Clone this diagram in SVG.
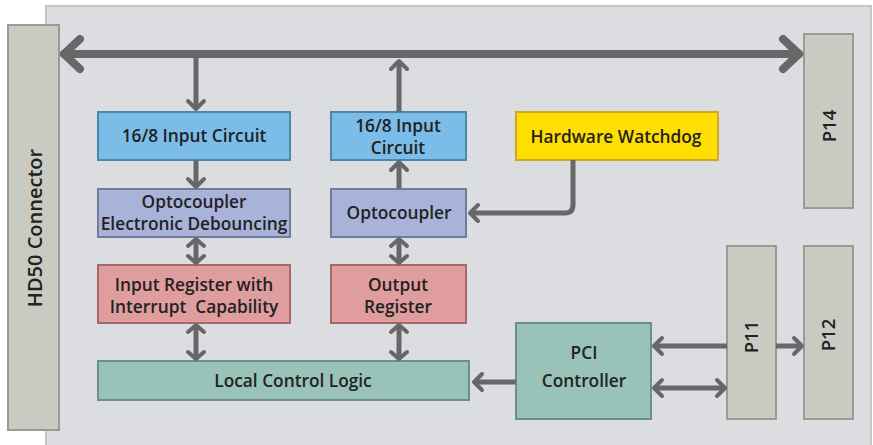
<svg xmlns="http://www.w3.org/2000/svg" width="873" height="445" viewBox="0 0 873 445">
<defs>
<style>
.t{font-family:"Open Sans","Noto Sans",sans-serif;font-weight:600;font-size:17.3px;fill:#222;text-anchor:middle}
.p{font-size:18.5px}
.conn{fill:#c9cbc2;stroke:#9a9c94;stroke-width:2}
.blue{fill:#7bbde8;stroke:#4f86a8;stroke-width:2}
.lav{fill:#a9b3d9;stroke:#717d9c;stroke-width:2}
.pink{fill:#df9d9d;stroke:#a46a6a;stroke-width:2}
.teal{fill:#99c2b8;stroke:#6c9088;stroke-width:2}
.yel{fill:#ffde00;stroke:#c9a82a;stroke-width:2}
.ln{fill:none;stroke:#666769;stroke-width:5}
.hd{fill:none;stroke:#666769;stroke-width:4;stroke-linecap:round;stroke-linejoin:round}
.bus{fill:none;stroke:#666769;stroke-width:8;stroke-linecap:round;stroke-linejoin:round}
</style>
</defs>
<rect x="46" y="6" width="825" height="445" fill="#dcdde0" stroke="#c6c6c6" stroke-width="2"/>
<g id="hd50"><rect class="conn" x="8" y="25" width="51" height="405"/><text class="t" transform="translate(42,228) rotate(-90)" style="font-size:20px">HD50 Connector</text></g>
<g id="p14"><rect class="conn" x="804" y="34" width="49" height="174"/><text class="t p" transform="translate(836,126) rotate(-90)">P14</text></g>
<g id="p11"><rect class="conn" x="727" y="246" width="49" height="173"/><text class="t p" transform="translate(758,337) rotate(-90)">P11</text></g>
<g id="p12"><rect class="conn" x="804" y="246" width="49" height="173"/><text class="t p" transform="translate(835,335) rotate(-90)">P12</text></g>
<g id="in-circuit"><rect class="blue" x="98" y="112" width="192" height="48"/><text class="t" x="194" y="142">16/8 Input Circuit</text></g>
<g id="out-circuit"><rect class="blue" x="331" y="112" width="135" height="48"/><text class="t" x="398" y="132">16/8 Input</text><text class="t" x="398" y="154">Circuit</text></g>
<g id="watchdog"><rect class="yel" x="516" y="112" width="202" height="48"/><text class="t" x="616" y="143">Hardware Watchdog</text></g>
<g id="opto-in"><rect class="lav" x="98" y="189" width="192" height="48"/><text class="t" x="194" y="208">Optocoupler</text><text class="t" x="194" y="230">Electronic Debouncing</text></g>
<g id="opto-out"><rect class="lav" x="331" y="189" width="135" height="48"/><text class="t" x="399" y="219">Optocoupler</text></g>
<g id="in-reg"><rect class="pink" x="98" y="265" width="192" height="58"/><text class="t" x="194" y="291">Input Register with</text><text class="t" x="194" y="313" xml:space="preserve">Interrupt  Capability</text></g>
<g id="out-reg"><rect class="pink" x="331" y="265" width="135" height="58"/><text class="t" x="398" y="291">Output</text><text class="t" x="398" y="313">Register</text></g>
<g id="lcl"><rect class="teal" x="98" y="361" width="371" height="39"/><text class="t" x="293" y="387">Local Control Logic</text></g>
<g id="pci"><rect class="teal" x="516" y="323" width="135" height="96"/><text class="t" x="584" y="359">PCI</text><text class="t" x="584" y="387">Controller</text></g>
<g id="connectors">
<line class="bus" x1="64" y1="54" x2="799" y2="54"/>
<polyline class="bus" points="80,39 64,54 80,69"/>
<polyline class="bus" points="783,39 799,54 783,69"/>
<line class="ln" x1="196" y1="58" x2="196" y2="108"/>
<polyline class="hd" points="188,101 196,109 204,101"/>
<line class="ln" x1="399" y1="112" x2="399" y2="62"/>
<polyline class="hd" points="391,69 399,61 407,69"/>
<line class="ln" x1="196" y1="160" x2="196" y2="186"/>
<polyline class="hd" points="188,179 196,187 204,179"/>
<line class="ln" x1="399" y1="189" x2="399" y2="163"/>
<polyline class="hd" points="391,170 399,162 407,170"/>
<line class="ln" x1="196" y1="241" x2="196" y2="261"/>
<polyline class="hd" points="188,246 196,239 204,246"/>
<polyline class="hd" points="188,256 196,263 204,256"/>
<line class="ln" x1="399" y1="241" x2="399" y2="261"/>
<polyline class="hd" points="391,246 399,239 407,246"/>
<polyline class="hd" points="391,256 399,263 407,256"/>
<line class="ln" x1="196" y1="327" x2="196" y2="357"/>
<polyline class="hd" points="188,332 196,325 204,332"/>
<polyline class="hd" points="188,352 196,359 204,352"/>
<line class="ln" x1="399" y1="327" x2="399" y2="357"/>
<polyline class="hd" points="391,332 399,325 407,332"/>
<polyline class="hd" points="391,352 399,359 407,352"/>
<path class="ln" d="M573,160 V205 Q573,213 565,213 H472"/>
<polyline class="hd" points="478,205 470,213 478,221"/>
<line class="ln" x1="516" y1="382" x2="476" y2="382"/>
<polyline class="hd" points="482,374 474,382 482,390"/>
<line class="ln" x1="727" y1="346" x2="656" y2="346"/>
<polyline class="hd" points="662,338 654,346 662,354"/>
<line class="ln" x1="656" y1="388" x2="723" y2="388"/>
<polyline class="hd" points="662,380 654,388 662,396"/>
<polyline class="hd" points="717,380 725,388 717,396"/>
<line class="ln" x1="776" y1="346" x2="800" y2="346"/>
<polyline class="hd" points="794,338 802,346 794,354"/>
</g>
</svg>
